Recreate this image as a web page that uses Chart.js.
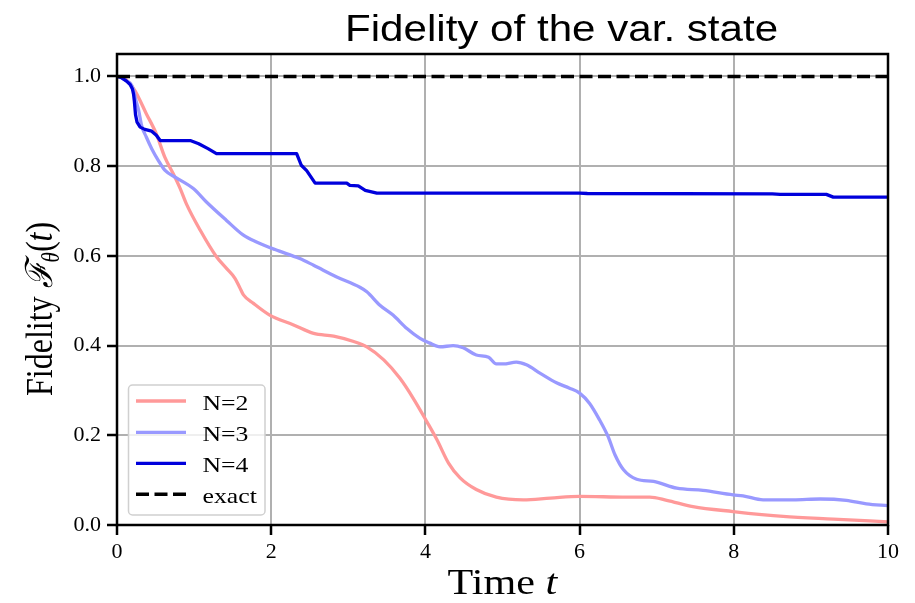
<!DOCTYPE html>
<html>
<head>
<meta charset="utf-8">
<style>
  html, body { margin: 0; padding: 0; background: #fff; }
  #wrap { width: 915px; height: 603px; }
</style>
<script src="https://cdn.jsdelivr.net/npm/chart.js@4.4.1/dist/chart.umd.min.js"></script>
</head>
<body>
<div id="wrap"><canvas id="fid" width="915" height="603"></canvas></div>
<script>
// Fidelity of the variational state versus time, for ansatz sizes N = 2, 3, 4.
const n2Time = [0, 0.1, 0.23, 0.38, 0.51, 0.62, 0.73, 0.82, 0.90, 1.08, 1.29, 1.42, 1.53, 1.59, 1.64, 1.77, 1.98, 2.29, 2.55, 2.81, 3.07, 3.24, 3.46, 3.67, 3.84, 4.02, 4.15, 4.30, 4.45, 4.66, 4.92, 5.27, 5.62, 6.0, 6.61, 6.91, 7.13, 7.47, 7.99, 8.64, 9.29, 10];
const n2Fid  = [1.0, 0.995, 0.969, 0.917, 0.872, 0.82, 0.783, 0.75, 0.716, 0.657, 0.598, 0.572, 0.55, 0.53, 0.513, 0.494, 0.468, 0.446, 0.427, 0.421, 0.409, 0.397, 0.368, 0.327, 0.283, 0.23, 0.19, 0.138, 0.105, 0.079, 0.062, 0.056, 0.060, 0.064, 0.062, 0.062, 0.055, 0.041, 0.030, 0.019, 0.013, 0.007];

const n3Time = [0, 0.05, 0.12, 0.17, 0.21, 0.24, 0.28, 0.32, 0.38, 0.45, 0.535, 0.62, 0.77, 0.99, 1.16, 1.42, 1.64, 1.81, 2.05, 2.37, 2.55, 2.85, 3.15, 3.24, 3.41, 3.58, 3.76, 3.93, 4.05, 4.19, 4.36, 4.49, 4.66, 4.82, 4.92, 5.01, 5.18, 5.31, 5.49, 5.70, 5.87, 6.0, 6.13, 6.26, 6.37, 6.46, 6.57, 6.74, 6.96, 7.26, 7.60, 7.99, 8.12, 8.38, 8.77, 9.12, 9.46, 9.72, 10];
const n3Fid  = [1.0, 0.998, 0.99, 0.985, 0.972, 0.95, 0.925, 0.89, 0.865, 0.839, 0.813, 0.791, 0.774, 0.75, 0.72, 0.679, 0.646, 0.631, 0.614, 0.594, 0.579, 0.553, 0.53, 0.52, 0.49, 0.468, 0.438, 0.416, 0.406, 0.397, 0.40, 0.395, 0.379, 0.374, 0.359, 0.359, 0.363, 0.357, 0.338, 0.317, 0.305, 0.294, 0.271, 0.234, 0.197, 0.156, 0.123, 0.102, 0.097, 0.082, 0.077, 0.067, 0.065, 0.056, 0.056, 0.058, 0.055, 0.047, 0.043];

const n4Time = [0, 0.05, 0.12, 0.17, 0.2, 0.215, 0.225, 0.24, 0.26, 0.30, 0.36, 0.45, 0.51, 0.56, 0.95, 1.06, 1.18, 1.29, 1.33, 2.33, 2.39, 2.46, 2.57, 2.98, 3.02, 3.13, 3.22, 3.37, 6.0, 6.1, 8.5, 8.6, 9.2, 9.29, 10];
const n4Fid  = [1.0, 0.998, 0.99, 0.982, 0.972, 0.96, 0.945, 0.915, 0.898, 0.887, 0.882, 0.878, 0.869, 0.857, 0.857, 0.85, 0.839, 0.828, 0.828, 0.828, 0.802, 0.79, 0.762, 0.762, 0.757, 0.756, 0.746, 0.740, 0.740, 0.739, 0.738, 0.737, 0.737, 0.731, 0.731];

const exactTime = [0, 10];
const exactFid  = [1.0, 1.0];

const xTicks = [0, 2, 4, 6, 8, 10];
const yTicks = [0.0, 0.2, 0.4, 0.6, 0.8, 1.0];

const seriesLabels = ['N=2', 'N=3', 'N=4', 'exact'];

const pairs = (ts, vs) => ts.map((t, i) => ({ x: t, y: vs[i] }));

const SERIF = '"Liberation Serif", "DejaVu Serif", serif';
const SANS = '"Liberation Sans", Arial, sans-serif';
const STRETCH = 1.17;

// draws a run of differently styled text pieces one after another
function drawRun(ctx, parts) {
  let x = 0;
  for (const p of parts) {
    ctx.font = p.font;
    ctx.fillText(p.text, x, p.dy || 0);
    x += ctx.measureText(p.text).width;
  }
  return x;
}

const decorations = {
  id: 'decorations',
  afterDatasetsDraw(chart) {
    const ctx = chart.ctx;
    const a = chart.chartArea;
    ctx.save();
    // axes frame
    ctx.strokeStyle = '#000';
    ctx.lineWidth = 2.5;
    ctx.strokeRect(a.left, a.top, a.right - a.left, a.bottom - a.top);
    ctx.restore();
  },
  afterDraw(chart) {
    const ctx = chart.ctx;
    ctx.save();
    ctx.fillStyle = '#000';
    ctx.textBaseline = 'alphabetic';
    ctx.textAlign = 'left';

    // title
    ctx.save();
    ctx.translate(345, 40.5);
    ctx.scale(STRETCH, 1);
    ctx.font = '36px ' + SANS;
    ctx.fillText('Fidelity of the var. state', 0, 0);
    ctx.restore();

    // x axis title
    ctx.save();
    ctx.translate(447.5, 594);
    ctx.scale(STRETCH, 1);
    drawRun(ctx, [
      { text: 'Time ', font: '36px ' + SERIF },
      { text: 't', font: 'italic 36px ' + SERIF }
    ]);
    ctx.restore();

    // y axis title
    ctx.save();
    ctx.translate(52, 396);
    ctx.rotate(-Math.PI / 2);
    ctx.scale(1, STRETCH);
    drawRun(ctx, [
      { text: 'Fidelity ', font: '32px ' + SERIF },
      { text: '\u2131', font: 'italic 32px ' + SERIF },
      { text: '\u03B8', font: 'italic 21px ' + SERIF, dy: 6 },
      { text: '(', font: '32px ' + SERIF },
      { text: 't', font: 'italic 32px ' + SERIF },
      { text: ')', font: '32px ' + SERIF }
    ]);
    ctx.restore();

    // legend
    const box = { x: 128.5, y: 385, w: 136.5, h: 130, r: 4 };
    ctx.save();
    ctx.beginPath();
    ctx.roundRect(box.x, box.y, box.w, box.h, box.r);
    ctx.fillStyle = 'rgba(255,255,255,0.8)';
    ctx.fill();
    ctx.strokeStyle = '#d0d0d0';
    ctx.lineWidth = 1.5;
    ctx.stroke();
    const rows = [401, 432.3, 463.3, 494.3];
    chart.data.datasets.forEach((ds, i) => {
      const y = rows[i];
      ctx.beginPath();
      ctx.setLineDash(ds.borderDash || []);
      ctx.strokeStyle = ds.borderColor;
      ctx.lineWidth = ds.borderWidth;
      ctx.moveTo(136, y);
      ctx.lineTo(186, y);
      ctx.stroke();
      ctx.setLineDash([]);
      ctx.save();
      ctx.translate(202.5, y + 8.5);
      ctx.scale(STRETCH, 1);
      ctx.fillStyle = '#000';
      ctx.font = '22px ' + SERIF;
      ctx.fillText(ds.label, 0, 0);
      ctx.restore();
    });
    ctx.restore();

    ctx.restore();
  }
};

new Chart(document.getElementById('fid'), {
  type: 'line',
  data: {
    datasets: [
      { label: seriesLabels[0], data: pairs(n2Time, n2Fid), borderColor: 'rgb(255,153,153)', borderWidth: 3.3, order: 4, cubicInterpolationMode: 'monotone' },
      { label: seriesLabels[1], data: pairs(n3Time, n3Fid), borderColor: 'rgb(153,153,255)', borderWidth: 3.3, order: 3, cubicInterpolationMode: 'monotone' },
      { label: seriesLabels[2], data: pairs(n4Time, n4Fid), borderColor: 'rgb(0,0,220)', borderWidth: 3.3, order: 2, tension: 0 },
      { label: seriesLabels[3], data: pairs(exactTime, exactFid), borderColor: '#000', borderWidth: 3.5, borderDash: [13, 5.5], order: 1, tension: 0 }
    ]
  },
  options: {
    responsive: false,
    devicePixelRatio: 1,
    animation: false,
    events: [],
    layout: { padding: { left: 0, top: 54, right: 27, bottom: 0 } },
    elements: { point: { radius: 0 }, line: { borderCapStyle: 'butt', borderJoinStyle: 'round' } },
    plugins: { legend: { display: false }, title: { display: false }, tooltip: { enabled: false } },
    scales: {
      x: {
        type: 'linear',
        min: 0, max: 10,
        afterBuildTicks: s => { s.ticks = xTicks.map(v => ({ value: v })); },
        afterFit: s => { s.height = 78; },
        border: { display: false },
        grid: { color: '#b0b0b0', lineWidth: 2, tickColor: '#000', tickWidth: 2.5, tickLength: 10 },
        ticks: { color: '#000', padding: 4, font: { family: SERIF, size: 22 }, callback: v => String(v) }
      },
      y: {
        type: 'linear',
        min: 0, max: 1.05,
        afterBuildTicks: s => { s.ticks = yTicks.map(v => ({ value: v })); },
        afterFit: s => { s.width = 117; },
        border: { display: false },
        grid: { color: '#b0b0b0', lineWidth: 2, tickColor: '#000', tickWidth: 2.5, tickLength: 10 },
        ticks: { color: '#000', padding: 6, font: { family: SERIF, size: 22 }, callback: v => v.toFixed(1) }
      }
    }
  },
  plugins: [decorations]
});
</script>
</body>
</html>
